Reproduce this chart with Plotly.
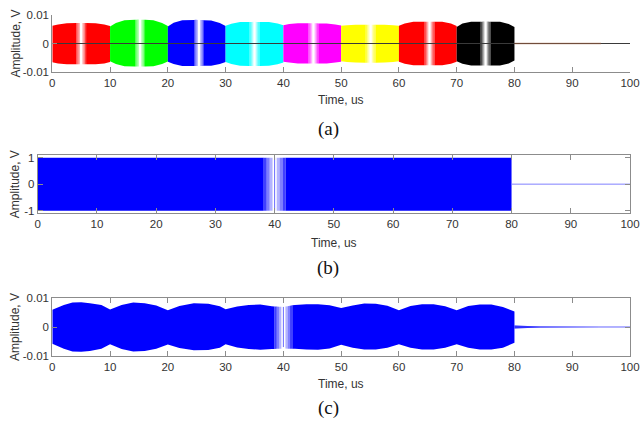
import numpy as np
import plotly.graph_objects as go

# ---------------- data ----------------
X_TICKS = [0, 10, 20, 30, 40, 50, 60, 70, 80, 90, 100]
X_TICKTEXT = ["0", "10", "20", "30", "40", "50", "60", "70", "80", "90", "100"]
YA_TICKS = [-0.01, 0, 0.01]
YA_TICKTEXT = ["-0.01", "0", "0.01"]
YB_TICKS = [-1, 0, 1]
YB_TICKTEXT = ["-1", "0", "1"]

# Panel (a): eight 10-us bursts, envelope read at offsets inside each burst
A_COLORS = ["#ff0000", "#00ff00", "#0000ff", "#00ffff",
            "#ff00ff", "#ffff00", "#ff0000", "#000000"]
A_START = [0, 10, 20, 30, 40, 50, 60, 70]
A_OFFSETS = [0, 1, 2.5, 5, 7.5, 9, 10]
A_TOP = [
    [0.0062, 0.0067, 0.0071, 0.0072, 0.0071, 0.0067, 0.0061],
    [0.0060, 0.0072, 0.0082, 0.0084, 0.0082, 0.0072, 0.0061],
    [0.0060, 0.0073, 0.0082, 0.0083, 0.0081, 0.0072, 0.0061],
    [0.0062, 0.0069, 0.0075, 0.0076, 0.0075, 0.0070, 0.0064],
    [0.0064, 0.0068, 0.0071, 0.0071, 0.0070, 0.0067, 0.0063],
    [0.0062, 0.0064, 0.0066, 0.0066, 0.0066, 0.0064, 0.0062],
    [0.0062, 0.0070, 0.0076, 0.0076, 0.0076, 0.0070, 0.0061],
    [0.0058, 0.0070, 0.0076, 0.0077, 0.0076, 0.0068, 0.0058],
]
A_BOT = [
    [-0.0066, -0.0070, -0.0073, -0.0073, -0.0073, -0.0070, -0.0065],
    [-0.0062, -0.0072, -0.0080, -0.0081, -0.0080, -0.0072, -0.0063],
    [-0.0064, -0.0072, -0.0079, -0.0079, -0.0078, -0.0072, -0.0065],
    [-0.0065, -0.0072, -0.0078, -0.0079, -0.0078, -0.0073, -0.0067],
    [-0.0064, -0.0067, -0.0070, -0.0070, -0.0070, -0.0067, -0.0064],
    [-0.0062, -0.0065, -0.0067, -0.0068, -0.0067, -0.0065, -0.0062],
    [-0.0064, -0.0071, -0.0076, -0.0076, -0.0076, -0.0071, -0.0064],
    [-0.0062, -0.0071, -0.0077, -0.0077, -0.0077, -0.0070, -0.0060],
]
A_NOTCH = [5.0, 15.2, 25.4, 35.0, 45.2, 55.1, 65.3, 75.0]
A_TAIL_T = [80, 95]

# Panel (b): full-scale drive signal
B_T = [0, 80]
B_TOP = [1.0, 1.0]
B_BOT = [-1.0, -1.0]
B_NOTCH = 40.0
B_TAIL_T = [80, 100]

# Panel (c): received signal envelope
C_T = [0, 2, 3.5, 5, 6.5, 8.5, 10, 12, 14, 16, 18, 20, 22, 24.5, 27, 29, 30,
       32, 34, 36, 38, 40, 42, 44, 46, 48, 50, 52, 54, 56, 58, 60, 62, 64, 66,
       68, 70, 72, 74, 76, 78, 80]
C_TOP = [0.0060, 0.0077, 0.0085, 0.0086, 0.0083, 0.0077, 0.0061, 0.0077, 0.0085,
         0.0083, 0.0075, 0.0058, 0.0073, 0.0083, 0.0081, 0.0072, 0.0062, 0.0071,
         0.0077, 0.0078, 0.0072, 0.0070, 0.0077, 0.0079, 0.0079, 0.0076, 0.0066,
         0.0075, 0.0082, 0.0081, 0.0074, 0.0058, 0.0073, 0.0079, 0.0079, 0.0072,
         0.0058, 0.0073, 0.0078, 0.0078, 0.0070, 0.0054]
C_BOT = [-0.0058, -0.0076, -0.0085, -0.0086, -0.0084, -0.0076, -0.0060, -0.0077,
         -0.0085, -0.0084, -0.0076, -0.0061, -0.0073, -0.0081, -0.0080, -0.0072,
         -0.0060, -0.0071, -0.0077, -0.0079, -0.0077, -0.0075, -0.0076, -0.0078,
         -0.0079, -0.0075, -0.0062, -0.0072, -0.0078, -0.0078, -0.0072, -0.0060,
         -0.0072, -0.0078, -0.0078, -0.0072, -0.0060, -0.0072, -0.0078, -0.0078,
         -0.0072, -0.0055]
C_NOTCH = 40.0
C_TAIL_T = [80, 84.5, 95, 100]
C_TAIL_AMP = [0.0005, 0.0002, 0.0, 0.0]

# ---------------- helpers ----------------
W, H = 641, 427


def band(t, top, bot, t0, t1):
    t = np.asarray(t, dtype=float)
    xs = [t0] + [float(x) for x in t if t0 < x < t1] + [t1]
    up = [float(np.interp(x, t, top)) for x in xs]
    lo = [float(np.interp(x, t, bot)) for x in xs]
    return xs + xs[::-1] + [xs[0]], up + lo[::-1] + [up[0]]


def rgba(hexc, a):
    h = hexc.lstrip("#")
    r, g, b = int(h[0:2], 16), int(h[2:4], 16), int(h[4:6], 16)
    return f"rgba({r},{g},{b},{a})"


def notched_fill(fig, t, top, bot, t0, t1, c, gap, feather, color, xa, ya,
                 alphas=(0.7, 0.45, 0.25)):
    n = len(alphas)
    left = [c - gap - feather + feather * i / n for i in range(n + 1)]
    right = [c + gap + feather * i / n for i in range(n + 1)]
    segs = [(t0, left[0], 1.0)]
    for i in range(n):
        segs.append((left[i], left[i + 1], alphas[i]))
    for i in range(n):
        segs.append((right[i], right[i + 1], alphas[n - 1 - i]))
    segs.append((right[-1], t1, 1.0))
    for a0, a1, al in segs:
        if a1 <= a0:
            continue
        X, Y = band(t, top, bot, a0, a1)
        fig.add_trace(go.Scatter(x=X, y=Y, fill="toself", mode="none",
                                 fillcolor=rgba(color, al), hoverinfo="skip",
                                 showlegend=False, xaxis=xa, yaxis=ya))


fig = go.Figure()

# ---- panel (a)
for k in range(len(A_START)):
    tt = [A_START[k] + o for o in A_OFFSETS]
    notched_fill(fig, tt, A_TOP[k], A_BOT[k], tt[0], tt[-1], A_NOTCH[k],
                 0.2, 0.65, A_COLORS[k], "x", "y", alphas=(0.75, 0.5, 0.3))
fig.add_trace(go.Scatter(x=[0, 100], y=[0, 0], mode="lines",
                         line=dict(color="#3a3a3a", width=1), hoverinfo="skip",
                         showlegend=False, xaxis="x", yaxis="y"))
fig.add_trace(go.Scatter(x=A_TAIL_T, y=[0, 0], mode="lines",
                         line=dict(color="rgba(150,90,60,0.6)", width=1.3),
                         hoverinfo="skip", showlegend=False, xaxis="x", yaxis="y"))

# ---- panel (b)
notched_fill(fig, B_T, B_TOP, B_BOT, B_T[0], B_T[-1], B_NOTCH, 0.35, 1.5,
             "#0000ff", "x2", "y2", alphas=(0.75, 0.5, 0.3))
fig.add_trace(go.Scatter(x=[B_NOTCH, B_NOTCH], y=[B_BOT[0], B_TOP[0]], mode="lines",
                         line=dict(color="rgba(0,0,255,0.6)", width=1),
                         hoverinfo="skip", showlegend=False, xaxis="x2", yaxis="y2"))
fig.add_trace(go.Scatter(x=B_TAIL_T, y=[0, 0], mode="lines",
                         line=dict(color="#8080ff", width=1), hoverinfo="skip",
                         showlegend=False, xaxis="x2", yaxis="y2"))

# ---- panel (c)
notched_fill(fig, C_T, C_TOP, C_BOT, C_T[0], C_T[-1], C_NOTCH, 0.35, 1.2,
             "#0000ff", "x3", "y3", alphas=(0.75, 0.5, 0.3))
fig.add_trace(go.Scatter(x=[C_NOTCH, C_NOTCH], y=[-0.0070, 0.0070], mode="lines",
                         line=dict(color="rgba(0,0,255,0.6)", width=1),
                         hoverinfo="skip", showlegend=False, xaxis="x3", yaxis="y3"))
X, Y = band(C_TAIL_T, C_TAIL_AMP, [-a for a in C_TAIL_AMP], C_TAIL_T[0], C_TAIL_T[-1])
fig.add_trace(go.Scatter(x=X, y=Y, fill="toself", mode="none",
                         fillcolor="#0000ff", hoverinfo="skip",
                         showlegend=False, xaxis="x3", yaxis="y3"))
fig.add_trace(go.Scatter(x=[C_TAIL_T[0], C_TAIL_T[-1]], y=[0, 0], mode="lines",
                         line=dict(color="#6666ff", width=1), hoverinfo="skip",
                         showlegend=False, xaxis="x3", yaxis="y3"))

# ---------------- layout ----------------
AX = "#8c8c8c"
TXT = "#333333"
FONT = "Liberation Sans, Arial, sans-serif"
tf = dict(family=FONT, size=11.5, color=TXT)


def xax(dom, anchor, mirror):
    return dict(domain=dom, anchor=anchor, range=[0, 100], tickvals=X_TICKS,
                ticktext=X_TICKTEXT, ticks="inside", ticklen=5, tickcolor=AX,
                showline=True, linecolor=AX, linewidth=1, mirror=mirror,
                showgrid=False, zeroline=False, tickfont=tf, fixedrange=True,
                automargin=False)


def yax(dom, anchor, rng, tv, tt, mirror):
    return dict(domain=dom, anchor=anchor, range=rng, tickvals=tv, ticktext=tt,
                ticks="inside", ticklen=5, tickcolor=AX, showline=True,
                linecolor=AX, linewidth=1, mirror=mirror, showgrid=False,
                zeroline=False, tickfont=tf, fixedrange=True, automargin=False)


def py(p):
    return 1 - p / H


fig.update_layout(
    width=W, height=H, margin=dict(l=0, r=0, t=0, b=0, autoexpand=False),
    autosize=False,
    paper_bgcolor="white", plot_bgcolor="white", showlegend=False,
    xaxis=xax([52.3 / W, 630 / W], "y", False),
    yaxis=yax([py(72), py(15)], "x", [-0.01, 0.01], YA_TICKS, YA_TICKTEXT, False),
    xaxis2=xax([37.7 / W, 630 / W], "y2", "ticks"),
    yaxis2=yax([py(213.3), py(155)], "x2", [-1.1, 1.1], YB_TICKS, YB_TICKTEXT, "ticks"),
    xaxis3=xax([52.3 / W, 630 / W], "y3", "ticks"),
    yaxis3=yax([py(355.7), py(298.3)], "x3", [-0.01, 0.01], YA_TICKS, YA_TICKTEXT, "ticks"),
)

ann = []
for cx, cy in [(341, 100), (334, 243), (341, 384)]:
    ann.append(dict(text="Time, us", x=cx / W, y=py(cy), xref="paper", yref="paper",
                    showarrow=False, font=dict(family=FONT, size=12, color=TXT),
                    xanchor="center", yanchor="middle"))
for cy in [43.5, 184.2, 327]:
    ann.append(dict(text="Amplitude, V", x=15 / W, y=py(cy), xref="paper", yref="paper",
                    showarrow=False, textangle=-90,
                    font=dict(family=FONT, size=12, color=TXT),
                    xanchor="center", yanchor="middle"))
for lab, cy in [("(a)", 129), ("(b)", 268), ("(c)", 408)]:
    ann.append(dict(text=lab, x=328 / W, y=py(cy), xref="paper", yref="paper",
                    showarrow=False,
                    font=dict(family="Liberation Serif, Times New Roman, serif",
                              size=19, color="#111111"),
                    xanchor="center", yanchor="middle"))
fig.update_layout(annotations=ann)

fig.write_html("out.html")
